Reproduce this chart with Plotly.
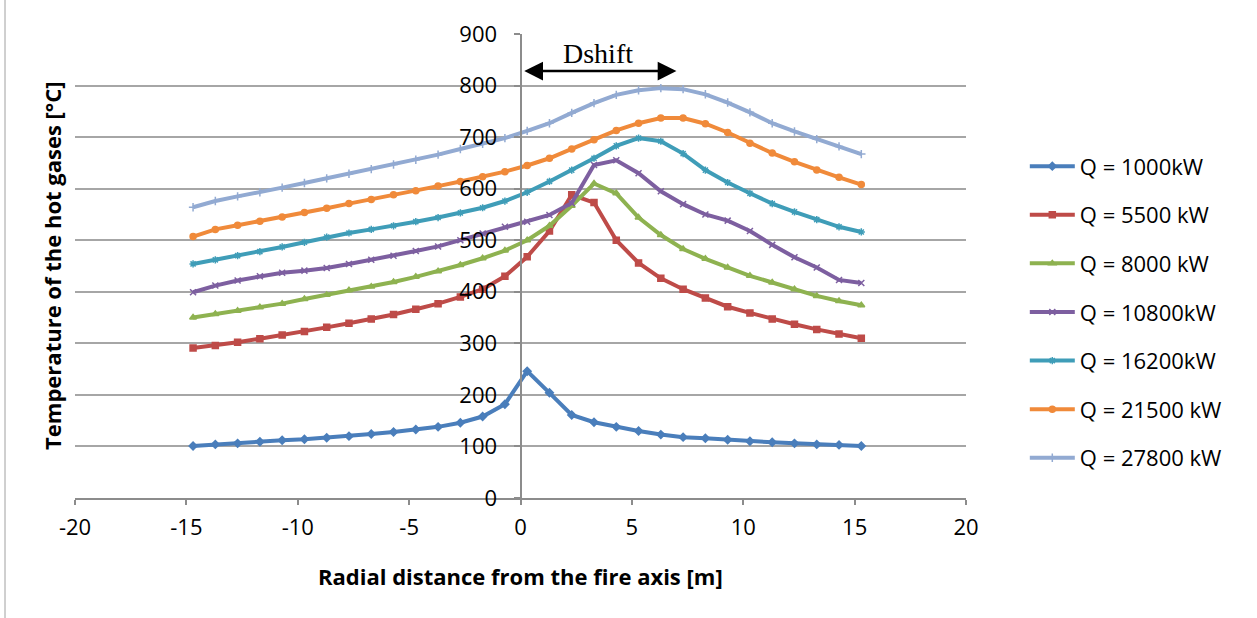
import plotly.graph_objects as go

# Radial distance [m]
x_m = [-14.7, -13.7, -12.7, -11.7, -10.7, -9.7, -8.7, -7.7, -6.7, -5.7, -4.7, -3.7, -2.7, -1.7, -0.7,
       0.3, 1.3, 2.3, 3.3, 4.3, 5.3, 6.3, 7.3, 8.3, 9.3, 10.3, 11.3, 12.3, 13.3, 14.3, 15.3]

q1000 = [101, 104, 106, 109, 112, 114, 117, 120, 124, 128, 133, 138, 146, 158, 182,
         246, 204, 161, 147, 138, 130, 123, 118, 116, 113, 110, 108, 106, 104, 103, 101]
q5500 = [291, 296, 302, 309, 316, 323, 331, 339, 347, 356, 366, 377, 390, 405, 430,
         468, 518, 588, 573, 500, 456, 426, 405, 388, 371, 359, 347, 337, 327, 318, 310]
q8000 = [350, 357, 363, 370, 377, 386, 394, 403, 410, 419, 429, 440, 452, 465, 480,
         500, 528, 567, 610, 591, 544, 510, 483, 464, 447, 431, 418, 405, 392, 382, 374]
q10800 = [399, 412, 422, 430, 437, 441, 446, 454, 462, 470, 479, 488, 500, 513, 526,
          536, 549, 572, 646, 655, 630, 595, 570, 550, 538, 518, 491, 467, 447, 423, 417]
q16200 = [454, 462, 470, 478, 487, 496, 506, 514, 521, 528, 536, 544, 553, 563, 576,
          593, 614, 636, 659, 683, 698, 692, 668, 636, 612, 591, 571, 555, 540, 526, 516]
q21500 = [507, 521, 529, 537, 545, 554, 562, 571, 579, 588, 596, 605, 614, 623, 633,
          645, 659, 677, 695, 713, 727, 737, 737, 726, 709, 688, 669, 652, 636, 622, 608]
q27800 = [564, 576, 585, 593, 602, 611, 620, 629, 638, 647, 656, 666, 677, 687, 698,
          712, 727, 747, 766, 782, 791, 795, 793, 783, 767, 748, 727, 711, 696, 682, 667]

names = ["Q = 1000kW", "Q = 5500 kW", "Q = 8000 kW", "Q = 10800kW",
         "Q = 16200kW", "Q = 21500 kW", "Q = 27800 kW"]
series = [q1000, q5500, q8000, q10800, q16200, q21500, q27800]
colors = ["#4A7EBB", "#BE4B48", "#8EB250", "#7D5FA0", "#3F9DB8", "#F08A3A", "#92AAD2"]
symbols = ["diamond", "square", "triangle-up", "x-thin", "asterisk", "circle", "cross-thin"]

x_ticks = [-20, -15, -10, -5, 0, 5, 10, 15, 20]
y_ticks = [0, 100, 200, 300, 400, 500, 600, 700, 800, 900]

FONT = "Open Sans"

fig = go.Figure()
for i, (nm, ys, c, s) in enumerate(zip(names, series, colors, symbols)):
    fig.add_trace(go.Scatter(
        x=x_m, y=ys, name=nm, mode="lines+markers", legendgroup=f"g{i}",
        line=dict(color=c, width=4),
        marker=dict(symbol=s, size=6, color=c, line=dict(color=c, width=1.5)),
    ))

fig.update_layout(
    width=1257, height=618,
    margin=dict(l=75, r=291, t=34, b=120),
    paper_bgcolor="white", plot_bgcolor="white",
    font=dict(family=FONT, size=22, color="black"),
    showlegend=True,
    legend=dict(x=1.066, y=0.76, xanchor="left", yanchor="top",
                traceorder="grouped", tracegroupgap=17, itemwidth=45,
                font=dict(family=FONT, size=22), bgcolor="rgba(0,0,0,0)"),
    xaxis=dict(range=[-20, 20], tickvals=x_ticks, ticktext=[str(v) for v in x_ticks],
               showgrid=False, zeroline=False,
               showline=True, linecolor="#8C8C8C", linewidth=2,
               ticks="outside", ticklen=5, tickcolor="#8C8C8C", tickwidth=1.5,
               ticklabelstandoff=4,
               tickfont=dict(family=FONT, size=22)),
    yaxis=dict(range=[0, 900], tickvals=y_ticks, ticktext=[str(v) for v in y_ticks],
               showgrid=True, gridcolor="#A6A6A6", gridwidth=2,
               zeroline=False, showline=True, linecolor="#8C8C8C", linewidth=2,
               anchor="free", position=0.5,
               ticks="outside", ticklen=6, tickcolor="#8C8C8C", tickwidth=1.5,
               ticklabelstandoff=12,
               tickfont=dict(family=FONT, size=22)),
)

fig.add_annotation(text="<b>Temperature of the hot gases [°C]</b>", xref="paper", yref="paper",
                   x=-0.045, y=0.5, textangle=-90, showarrow=False,
                   font=dict(family=FONT, size=22))
fig.add_annotation(text="<b>Radial distance from the fire axis [m]</b>", xref="paper", yref="paper",
                   x=0.5, y=-0.168, yanchor="middle", showarrow=False,
                   font=dict(family=FONT, size=22))

# Dshift double arrow
fig.add_annotation(x=7.0, y=828, ax=0.1, ay=828, xref="x", yref="y", axref="x", ayref="y",
                   text="", showarrow=True, arrowside="end+start", arrowhead=2,
                   arrowsize=1.5, arrowwidth=2.5, arrowcolor="black")
fig.add_annotation(text="Dshift", x=3.5, y=862, xref="x", yref="y", showarrow=False,
                   font=dict(family="Liberation Serif", size=28, color="black"))

# outer chart border (left edge visible)
fig.add_shape(type="line", xref="paper", yref="paper",
              x0=(5 - 75) / 891, x1=(5 - 75) / 891, y0=-0.3, y1=1.1,
              line=dict(color="#A0A0A0", width=1))

fig.write_html("out.html")
